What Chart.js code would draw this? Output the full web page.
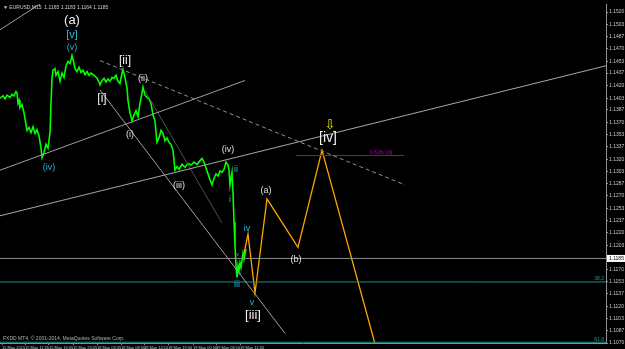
<!DOCTYPE html>
<html>
<head>
<meta charset="utf-8">
<script src="https://cdn.jsdelivr.net/npm/chart.js@4.4.0/dist/chart.umd.min.js"></script>
<style>
html, body { margin: 0; padding: 0; background: #000; }
#wrap { width: 625px; height: 349px; position: relative; }
</style>
</head>
<body>
<div id="wrap"><canvas id="waveChart"></canvas></div>
<script>
// price history (bar number, close)
var barIdx = [0,3,5,7,10,12,14,16,17,18,19,20,22,24,26,27,29,31,33,35,37,39,41,42,44,46,48,50,51,52,53,55,56,58,60,62,64,66,68,70,72,74,75,77,79,81,83,85,87,89,91,93,95,97,99,100,102,104,106,108,110,112,114,116,118,120,122,123,125,127,128,130,132,134,136,138,140,142,143,145,147,149,151,153,155,156,157,159,161,163,165,167,169,171,173,175,177,179,182,185,188,191,194,197,200,202,204,206,208,210,212,214,216,218,220,222,224,226,228,229,230,231,232,233,234,235,236,237,238,239,240,241,243,244,246];
var closePrice = [1.1403,1.1406,1.1402,1.1407,1.1404,1.1408,1.1406,1.1412,1.1410,1.1396,1.1400,1.1390,1.1394,1.1383,1.1367,1.1359,1.1363,1.1356,1.1364,1.1355,1.1360,1.1352,1.1335,1.1322,1.1329,1.1340,1.1335,1.1356,1.1396,1.1430,1.1441,1.1443,1.1434,1.1439,1.1426,1.1437,1.1431,1.1447,1.1453,1.1450,1.1461,1.1450,1.1443,1.1439,1.1445,1.1438,1.1441,1.1435,1.1439,1.1434,1.1437,1.1435,1.1433,1.1430,1.1425,1.1421,1.1427,1.1430,1.1425,1.1429,1.1426,1.1431,1.1430,1.1434,1.1426,1.1423,1.1437,1.1442,1.1431,1.1417,1.1400,1.1383,1.1372,1.1380,1.1386,1.1378,1.1396,1.1410,1.1418,1.1407,1.1404,1.1402,1.1396,1.1380,1.1372,1.1356,1.1343,1.1349,1.1359,1.1355,1.1345,1.1349,1.1343,1.1340,1.1332,1.1305,1.1310,1.1306,1.1313,1.1309,1.1314,1.1312,1.1316,1.1313,1.1318,1.1321,1.1316,1.1308,1.1300,1.1292,1.1285,1.1294,1.1300,1.1297,1.1304,1.1302,1.1306,1.1316,1.1312,1.1305,1.1285,1.1294,1.1302,1.1275,1.1235,1.1202,1.1175,1.1159,1.1175,1.1168,1.1179,1.1173,1.1192,1.1184,1.1198];

// projected path (orange)
var projBar = [243,248,255,267,298,322,378];
var projPrice = [1.1185,1.1218,1.1138,1.1266,1.1200,1.1332,1.1054];

// trend lines, [bar, price] end points
var trendA = [[0,1.1496],[40,1.1531]];
var trendB = [[0,1.1305],[245,1.1427]];
var trendC = [[0,1.1243],[606,1.1447]];
var trendD = [[100,1.1454],[405,1.1285]];
var trendE = [[100,1.1414],[285,1.1083]];
var trendF = [[145,1.1413],[222,1.1233]];

// horizontal levels
var bidPrice = 1.1185;
var fibLevels = [1.1153, 1.1071];
var fibNames = ['38.2', '61.8'];
var targetPrice = 1.1325;
var targetFrom = 296, targetTo = 404;
var targetName = '0.618x [iii]';

// wave labels
var waveText  = ['(a)','[v]','(v)','[ii]','[i]','(ii)','(i)','(iv)','(iii)','(iv)','ii','i','iv','iii','v','[iii]','(a)','(b)','[iv]','iv','v'];
var waveBar   = [72,72,72,125,102,143,130,49,179,228,236,230,247,237,252,253,266,296,328,237,240];
var wavePrice = [1.1508,1.1489,1.1472,1.1454,1.1402,1.1429,1.1353,1.1308,1.1284,1.1333,1.1306,1.1265,1.1226,1.1149,1.1125,1.1108,1.1278,1.1183,1.1348,1.1190,1.1164];
var waveKind  = ['W13','C11','C9','W12','W12','W9','W9','C9','W9','W9','C9','C9','C9','C9','C9','W13','W9','W9','W14','C5','C5'];

// axis labels
var priceTicks = [1.1520,1.1503,1.1487,1.1470,1.1453,1.1437,1.1420,1.1403,1.1387,1.1370,1.1353,1.1337,1.1320,1.1303,1.1287,1.1270,1.1253,1.1237,1.1220,1.1203,1.1170,1.1153,1.1137,1.1120,1.1103,1.1087,1.1070];
var dateBars = [2,25,49,73,97,121,144,168,193,216,240];
var dateLabels = ['15 May 2015','15 May 11:35','15 May 16:05','15 May 23:05','18 May 03:35','18 May 08:50','18 May 14:10','18 May 19:50','19 May 00:50','19 May 06:10','19 May 11:30'];

var titleText = '\u25BC EURUSD,M15  1.1165 1.1183 1.1164 1.1185';
var copyText = 'FXDD MT4, \u00A9 2001-2014, MetaQuotes Software Corp.';

var FONT = "'Liberation Sans', Arial, sans-serif";
var kindStyle = {
    W14: ['#f0f0f0', 14], W13: ['#f0f0f0', 13], W12: ['#f0f0f0', 12], W9: ['#e0e0e0', 9],
    C11: ['#22b8dc', 11], C9: ['#22b8dc', 9], C5: ['#22b8dc', 5]
};

function pts(xs, ys) { return xs.map(function (x, i) { return {x: x, y: ys[i]}; }); }
function seg(p) { return p.map(function (q) { return {x: q[0], y: q[1]}; }); }
function flat(a, b, v) { return [{x: a, y: v}, {x: b, y: v}]; }

function lineSet(data, color, width, dash) {
    return {data: data, borderColor: color, borderWidth: width, borderDash: dash || [],
            pointRadius: 0, tension: 0, fill: false};
}

var overlay = {
    id: 'overlay',
    afterDatasetsDraw: function (chart) {
        var c = chart.ctx, xs = chart.scales.x, ys = chart.scales.y, ca = chart.chartArea;
        c.save();
        c.textAlign = 'center';
        c.textBaseline = 'middle';
        for (var i = 0; i < waveText.length; i++) {
            var st = kindStyle[waveKind[i]];
            c.fillStyle = st[0];
            c.font = st[1] + 'px ' + FONT;
            c.fillText(waveText[i], xs.getPixelForValue(waveBar[i]), ys.getPixelForValue(wavePrice[i]));
        }
        // arrow over [iv]
        c.fillStyle = '#e6e600';
        c.font = '13px "DejaVu Sans"';
        c.fillText('\u21E9', xs.getPixelForValue(330), ys.getPixelForValue(1.1366));
        // target label
        c.fillStyle = '#b000b0';
        c.font = '5px ' + FONT;
        c.fillText(targetName, xs.getPixelForValue(381), ys.getPixelForValue(targetPrice) - 3);
        // fib names
        c.textAlign = 'right';
        c.fillStyle = '#1f9a9a';
        for (var k = 0; k < fibLevels.length; k++) {
            c.fillText(fibNames[k], ca.right - 2, ys.getPixelForValue(fibLevels[k]) - 3);
        }
        // title and copyright
        c.textAlign = 'left';
        c.fillStyle = '#d0d0d0';
        c.fillText(titleText, ca.left + 3, ca.top + 4);
        c.fillStyle = '#b0b0b0';
        c.fillText(copyText, ca.left + 3, ca.bottom - 4);
        // bid price box on the axis
        var by = ys.getPixelForValue(bidPrice);
        c.fillStyle = '#ffffff';
        c.fillRect(ca.right + 1, by - 3.5, 625 - ca.right, 7);
        c.fillStyle = '#000000';
        c.fillText(bidPrice.toFixed(4), ca.right + 3, by);
        c.restore();
    }
};

var ctx = document.getElementById('waveChart').getContext('2d');
var waveChart = new Chart(ctx, {
    type: 'line',
    data: {
        datasets: [
            lineSet(seg(trendA), '#a0a0a0', 1),
            lineSet(seg(trendB), '#a0a0a0', 1),
            lineSet(seg(trendC), '#a8a8a8', 1),
            lineSet(seg(trendD), '#909090', 1, [4, 3]),
            lineSet(seg(trendE), '#a0a0a0', 1),
            lineSet(seg(trendF), '#505050', 1),
            lineSet(flat(0, 606, bidPrice), '#909090', 1),
            lineSet(flat(0, 606, fibLevels[0]), '#1f8f8f', 1),
            lineSet(flat(0, 606, fibLevels[1]), '#1f8f8f', 1),
            lineSet(flat(targetFrom, targetTo, targetPrice), '#a000a0', 1),
            lineSet(pts(barIdx, closePrice), '#00ff00', 1.6),
            lineSet(pts(projBar, projPrice), '#ffa500', 1.3)
        ]
    },
    options: {
        responsive: true,
        maintainAspectRatio: false,
        animation: false,
        devicePixelRatio: 1,
        layout: { padding: 0 },
        plugins: { legend: { display: false }, tooltip: { enabled: false } },
        scales: {
            x: {
                type: 'linear', min: 0, max: 606,
                afterFit: function (s) { s.height = 6; },
                afterBuildTicks: function (s) { s.ticks = dateBars.map(function (v) { return {value: v}; }); },
                ticks: {
                    autoSkip: false, maxRotation: 0, align: 'start', padding: 0,
                    color: '#c8c8c8', font: { size: 4, family: FONT },
                    callback: function (v, i) { return dateLabels[i]; }
                },
                grid: { drawOnChartArea: false, tickLength: 2, color: '#909090' },
                border: { color: '#909090' }
            },
            y: {
                position: 'right', min: 1.1070, max: 1.1531,
                afterFit: function (s) { s.width = 19; },
                afterBuildTicks: function (s) { s.ticks = priceTicks.map(function (v) { return {value: v}; }); },
                ticks: {
                    padding: 1, color: '#c8c8c8', font: { size: 5, family: FONT },
                    callback: function (v) { return v.toFixed(4); }
                },
                grid: { drawOnChartArea: false, tickLength: 2, color: '#909090' },
                border: { color: '#909090' }
            }
        }
    },
    plugins: [overlay]
});
</script>
</body>
</html>
